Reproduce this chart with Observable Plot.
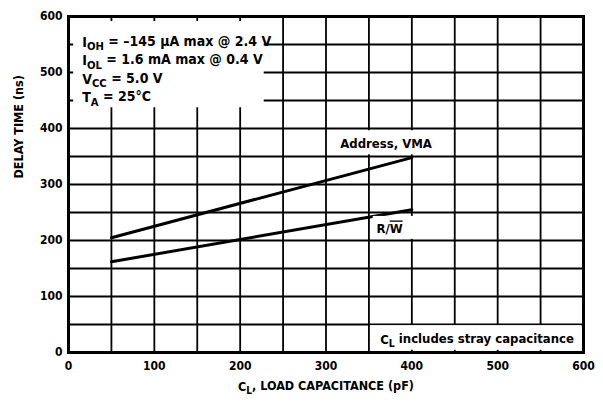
<!DOCTYPE html>
<html>
<head>
<meta charset="utf-8">
<script src="https://cdn.jsdelivr.net/npm/d3@7"></script>
<script src="https://cdn.jsdelivr.net/npm/@observablehq/plot@0.6"></script>
<style>
  html, body { margin: 0; padding: 0; background: #fff; }
  #chart svg { display: block; }
</style>
</head>
<body>
<div id="chart"></div>
<script>
// ---- data ----
const xTicks = [0, 100, 200, 300, 400, 500, 600];
const yTicks = [0, 100, 200, 300, 400, 500, 600];
const xGrid = [0, 50, 100, 150, 200, 250, 300, 350, 400, 450, 500, 550, 600];
const yGrid = [0, 50, 100, 150, 200, 250, 300, 350, 400, 450, 500, 550, 600];
const loadCapacitance = [50, 400];       // pF
const addressVMA = [205, 348];           // ns
const readWrite = [162, 255];            // ns
const conditions = [
  "I_{OH} = –145 µA max @ 2.4 V",
  "I_{OL} = 1.6 mA max @ 0.4 V",
  "V_{CC} = 5.0 V",
  "T_{A} = 25°C"
];
const seriesLabels = ["Address, VMA", "R/~{W}"];
const note = "C_{L} includes stray capacitance";
const xTitle = "C_{L}, LOAD CAPACITANCE (pF)";
const yTitle = "DELAY TIME (ns)";

const addressData = loadCapacitance.map((c, i) => ({c, t: addressVMA[i]}));
const rwData = loadCapacitance.map((c, i) => ({c, t: readWrite[i]}));

const FONT = "'Liberation Sans Narrow', 'Arial Narrow', 'DejaVu Sans Condensed', sans-serif";

const chart = Plot.plot({
  width: 603,
  height: 402,
  marginLeft: 68,
  marginRight: 20,
  marginTop: 16,
  marginBottom: 50,
  style: {fontFamily: FONT, fontWeight: "bold", fontSize: "12px", color: "#000", background: "#fff"},
  x: {domain: [0, 600], ticks: xTicks, tickSize: 0, tickPadding: 9, label: null},
  y: {domain: [0, 600], ticks: yTicks, tickSize: 0, tickPadding: 6, label: null},
  marks: [
    Plot.ruleX(xGrid, {stroke: "#000", strokeWidth: 1.8}),
    Plot.ruleY(yGrid, {stroke: "#000", strokeWidth: 1.8}),
    Plot.line(addressData, {x: "c", y: "t", stroke: "#000", strokeWidth: 3}),
    Plot.line(rwData, {x: "c", y: "t", stroke: "#000", strokeWidth: 3}),
    // white label backgrounds
    Plot.rect([0], {x1: 6, x2: 228, y1: 437, y2: 591, fill: "white"}),
    Plot.rect([0], {x1: 315, x2: 427, y1: 353, y2: 396, fill: "white"}),
    Plot.rect([0], {x1: 355, x2: 403, y1: 202, y2: 243, fill: "white"}),
    Plot.rect([0], {x1: 352, x2: 598, y1: 4, y2: 48, fill: "white"}),
    // texts
    Plot.text(conditions, {x: 16, y: (d, i) => [554, 521, 488, 455][i], text: d => d, textAnchor: "start", fontSize: 14}),
    Plot.text([seriesLabels[0]], {x: 370, y: 373, text: d => d, fontSize: 13}),
    Plot.text([seriesLabels[1]], {x: 374, y: 220, text: d => d, fontSize: 13}),
    Plot.text([note], {x: 476, y: 23, text: d => d, fontSize: 13}),
    Plot.text([xTitle], {frameAnchor: "bottom", dy: 38, text: d => d, fontSize: 12.5}),
    Plot.text([yTitle], {frameAnchor: "left", dx: -50, dy: -6, rotate: -90, text: d => d, fontSize: 12.5}),
    Plot.frame({stroke: "#000", strokeWidth: 3})
  ]
});

// rich text: _{sub}  ~{overline}
function richify(el) {
  const s = el.textContent;
  if (!/[_~]\{/.test(s)) return;
  el.textContent = "";
  const re = /([_~])\{([^}]*)\}/g;
  let last = 0, m, lowered = false;
  const ns = "http://www.w3.org/2000/svg";
  function add(txt, kind) {
    if (!txt) return;
    const t = document.createElementNS(ns, "tspan");
    t.textContent = txt;
    if (kind === "_") {
      t.setAttribute("dy", "0.3em");
      t.setAttribute("font-size", "80%");
      lowered = true;
    } else {
      if (lowered) { t.setAttribute("dy", "-0.3em"); lowered = false; }
      if (kind === "~") t.setAttribute("text-decoration", "overline");
    }
    el.appendChild(t);
  }
  while ((m = re.exec(s))) {
    add(s.slice(last, m.index), "n");
    add(m[2], m[1]);
    last = re.lastIndex;
  }
  add(s.slice(last), "n");
}
chart.querySelectorAll("text").forEach(richify);

document.getElementById("chart").appendChild(chart);
</script>
</body>
</html>
